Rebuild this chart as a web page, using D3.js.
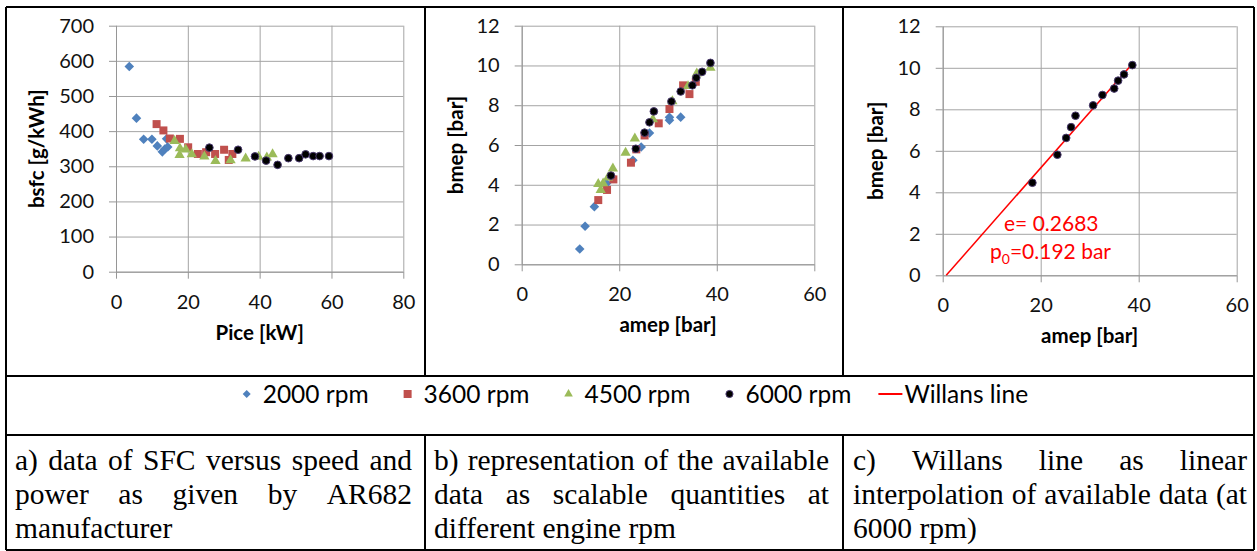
<!DOCTYPE html>
<html>
<head>
<meta charset="utf-8">
<script src="https://cdn.jsdelivr.net/npm/d3@7"></script>
<style>
  body { margin: 0; background: #fff; }
  svg { display: block; }
  .tick text { font-family: Lato, "Open Sans", sans-serif; font-size: 20px; fill: #111; }
  .axis path, .axis line { stroke: #969696; }
  .grid line { stroke: #a4a4a4; }
  .grid path { display: none; }
</style>
</head>
<body>
<script>
// ---- data ----
var seriesNames = ["2000 rpm", "3600 rpm", "4500 rpm", "6000 rpm"];

var pice2000 = [3.7, 5.7, 7.7, 10.0, 11.5, 12.9, 13.6, 14.4, 14.1];
var bsfc2000 = [584, 437, 377, 377, 358, 341, 349, 355, 378];
var pice3600 = [11.3, 13.2, 15.0, 17.8, 20.1, 22.8, 25.1, 27.6, 30.1, 32.4, 31.4];
var bsfc3600 = [420, 402, 379, 378, 354, 335, 340, 335, 347, 335, 318];
var pice4500 = [16.3, 17.8, 17.7, 19.4, 21.1, 24.6, 27.7, 31.9, 36.1, 39.7, 42.0, 43.6];
var bsfc4500 = [372, 351, 332, 348, 334, 328, 315, 317, 322, 327, 325, 334];
var pice6000 = [26.0, 34.0, 38.7, 41.8, 45.0, 48.0, 51.0, 52.8, 54.9, 56.7, 59.3];
var bsfc6000 = [353, 347, 328, 316, 304, 323, 323, 334, 329, 329, 329];

var amep2000 = [11.9, 13.0, 14.9, 17.4, 22.8, 24.5, 26.2, 30.3, 30.3, 32.6];
var bmep2000 = [0.77, 1.91, 2.90, 4.07, 5.23, 5.90, 6.60, 7.39, 7.25, 7.40];
var amep3600 = [15.7, 17.5, 18.8, 22.4, 23.5, 25.2, 28.1, 30.3, 33.1, 34.4, 35.7];
var bmep3600 = [3.23, 3.74, 4.27, 5.11, 5.78, 6.48, 7.09, 7.81, 9.00, 8.56, 9.18];
var amep4500 = [15.7, 16.2, 16.7, 17.7, 18.7, 21.3, 23.2, 26.9, 30.9, 34.1, 35.9, 38.7];
var bmep4500 = [4.04, 3.74, 4.07, 4.37, 4.82, 5.61, 6.33, 7.29, 8.20, 8.96, 9.60, 9.88];
var amep6000 = [18.3, 23.4, 25.2, 26.2, 27.1, 30.7, 32.6, 35.0, 35.8, 37.0, 38.7];
var bmep6000 = [4.46, 5.81, 6.62, 7.14, 7.69, 8.19, 8.69, 9.00, 9.38, 9.68, 10.13];

// Willans line fit at 6000 rpm: bmep = e * amep - p0
var willansE = 0.2683;
var willansP0 = 0.192;
var willansAmep = [0.72, 38.9];

var ticksPice = [0, 20, 40, 60, 80];
var ticksBsfc = [0, 100, 200, 300, 400, 500, 600, 700];
var ticksAmep = [0, 20, 40, 60];
var ticksBmep = [0, 2, 4, 6, 8, 10, 12];

var captions = [
  ["a) data of SFC versus speed and", "power as given by AR682", "manufacturer"],
  ["b) representation of the available", "data as scalable quantities at", "different engine rpm"],
  ["c) Willans line as linear", "interpolation of available data (at", "6000 rpm)"]
];

// ---- styles ----
var colors = ["#4f81bd", "#c0504d", "#9bbb59", "#000000"];
var shapes = [d3.symbolSquare, d3.symbolSquare, d3.symbolTriangle, d3.symbolCircle];
var sizes = [46, 64, 46, 46];
var rot = [45, 0, 0, 0];
var sans = "Lato, 'Open Sans', sans-serif";

var W = 1257, H = 551;
var svg = d3.select("body").append("svg").attr("width", W).attr("height", H);

function zip(xs, ys) {
  return xs.map(function (v, i) { return [v, ys[i]]; });
}

function panel(opt) {
  var x = d3.scaleLinear().domain(opt.xd).range(opt.xr);
  var y = d3.scaleLinear().domain(opt.yd).range(opt.yr);
  var g = svg.append("g");
  var pw = opt.xr[1] - opt.xr[0], ph = opt.yr[0] - opt.yr[1];

  g.append("g").attr("class", "grid")
    .attr("transform", "translate(" + opt.xr[0] + ",0)")
    .call(d3.axisLeft(y).tickValues(opt.yt).tickSize(-pw).tickFormat(""));
  g.append("g").attr("class", "grid")
    .attr("transform", "translate(0," + opt.yr[0] + ")")
    .call(d3.axisBottom(x).tickValues(opt.xt).tickSize(-ph).tickFormat(""));

  g.append("g").attr("class", "axis")
    .attr("transform", "translate(" + opt.xr[0] + ",0)")
    .call(d3.axisLeft(y).tickValues(opt.yt).tickSize(7).tickSizeOuter(0).tickPadding(15));
  g.append("g").attr("class", "axis")
    .attr("transform", "translate(0," + opt.yr[0] + ")")
    .call(d3.axisBottom(x).tickValues(opt.xt).tickSize(7).tickSizeOuter(0).tickPadding(16));

  g.append("text")
    .attr("x", (opt.xr[0] + opt.xr[1]) / 2).attr("y", opt.yr[0] + 68)
    .attr("text-anchor", "middle")
    .style("font-family", sans).style("font-size", "20.5px").style("font-weight", "bold")
    .text(opt.xl);
  g.append("text")
    .attr("transform", "translate(" + (opt.xr[0] - opt.yo) + "," + ((opt.yr[0] + opt.yr[1]) / 2) + ") rotate(-90)")
    .attr("text-anchor", "middle")
    .style("font-family", sans).style("font-size", "20.5px").style("font-weight", "bold")
    .text(opt.yl);

  if (opt.line) {
    g.append("path")
      .datum(opt.line)
      .attr("fill", "none").attr("stroke", "#ff0000").attr("stroke-width", 1.5)
      .attr("d", d3.line().x(function (d) { return x(d[0]); }).y(function (d) { return y(d[1]); }));
  }

  opt.series.forEach(function (s) {
    g.append("g").selectAll("path")
      .data(s.pts)
      .join("path")
      .attr("d", d3.symbol(shapes[s.k], sizes[s.k]))
      .attr("transform", function (d) {
        return "translate(" + x(d[0]) + "," + y(d[1]) + ") rotate(" + rot[s.k] + ")";
      })
      .attr("fill", colors[s.k])
      .attr("stroke", s.k == 3 ? "#4a3a6e" : "none")
      .attr("stroke-width", 1);
  });
  return { x: x, y: y, g: g };
}

// a) bsfc vs Pice
panel({
  xd: [0, 80], yd: [0, 700], xr: [116, 403.3], yr: [271.7, 25.7],
  xt: ticksPice, yt: ticksBsfc, xl: "Pice [kW]", yl: "bsfc [g/kWh]", yo: 72,
  series: [
    { k: 0, pts: zip(pice2000, bsfc2000) },
    { k: 1, pts: zip(pice3600, bsfc3600) },
    { k: 2, pts: zip(pice4500, bsfc4500) },
    { k: 3, pts: zip(pice6000, bsfc6000) }
  ]
});

// b) bmep vs amep, all speeds
panel({
  xd: [0, 60], yd: [0, 12], xr: [521.7, 814.3], yr: [264.3, 25.7],
  xt: ticksAmep, yt: ticksBmep, xl: "amep [bar]", yl: "bmep [bar]", yo: 59,
  series: [
    { k: 0, pts: zip(amep2000, bmep2000) },
    { k: 1, pts: zip(amep3600, bmep3600) },
    { k: 2, pts: zip(amep4500, bmep4500) },
    { k: 3, pts: zip(amep6000, bmep6000) }
  ]
});

// c) Willans line at 6000 rpm
var pc = panel({
  xd: [0, 60], yd: [0, 12], xr: [942.7, 1236.7], yr: [275.3, 26.3],
  xt: ticksAmep, yt: ticksBmep, xl: "amep [bar]", yl: "bmep [bar]", yo: 60,
  line: willansAmep.map(function (a) { return [a, willansE * a - willansP0]; }),
  series: [{ k: 3, pts: zip(amep6000, bmep6000) }]
});
pc.g.append("text")
  .attr("x", 1004).attr("y", 231)
  .style("font-family", sans).style("font-size", "21px").attr("fill", "#ff0000")
  .text("e= " + willansE);
var p0t = pc.g.append("text")
  .attr("x", 990).attr("y", 259)
  .style("font-family", sans).style("font-size", "21px").attr("fill", "#ff0000");
p0t.append("tspan").text("p");
p0t.append("tspan").attr("dy", 5).style("font-size", "14px").text("0");
p0t.append("tspan").attr("dy", -5).text("=" + willansP0 + " bar");

// ---- legend ----
var leg = svg.append("g");
var lx = 246.7, ly = 394;
seriesNames.forEach(function (n, k) {
  leg.append("path")
    .attr("d", d3.symbol(shapes[k], [32, 64, 32, 40][k]))
    .attr("transform", "translate(" + lx + "," + ly + ") rotate(" + rot[k] + ")")
    .attr("fill", colors[k])
    .attr("stroke", k == 3 ? "#4a3a6e" : "none");
  var t = leg.append("text")
    .attr("x", lx + 16).attr("y", ly + 8.5)
    .style("font-family", sans).style("font-size", "24.5px")
    .text(n);
  lx = lx + 16 + t.node().getComputedTextLength() + 39;
});
leg.append("line")
  .attr("x1", lx - 12).attr("x2", lx + 12).attr("y1", ly).attr("y2", ly)
  .attr("stroke", "#ff0000").attr("stroke-width", 2);
leg.append("text")
  .attr("x", lx + 14).attr("y", ly + 8.5)
  .style("font-family", sans).style("font-size", "24.5px")
  .text("Willans line");

// ---- caption cells, justified ----
var cellX = [[15, 412], [434, 829], [853, 1247]];
var lineY = [470, 504, 538];
var cap = svg.append("g")
  .style("font-family", "'Liberation Serif', 'Times New Roman', serif")
  .style("font-size", "29.5px");
captions.forEach(function (lines, c) {
  lines.forEach(function (ln, i) {
    var words = ln.split(" ");
    var nodes = words.map(function (w) {
      return cap.append("text").attr("y", lineY[i]).text(w);
    });
    var widths = nodes.map(function (nd) { return nd.node().getComputedTextLength(); });
    var total = d3.sum(widths);
    var gap = (i < lines.length - 1 && words.length > 1)
      ? (cellX[c][1] - cellX[c][0] - total) / (words.length - 1)
      : 7.4;
    var cx = cellX[c][0];
    nodes.forEach(function (nd, j) {
      nd.attr("x", cx);
      cx += widths[j] + gap;
    });
  });
});

// ---- table borders ----
var border = svg.append("g").attr("stroke", "#000").attr("stroke-width", 2);
[[6, 7, 1254, 7], [6, 376, 1254, 376], [6, 435, 1254, 435], [6, 550, 1254, 550],
 [6, 7, 6, 550], [1254, 7, 1254, 550],
 [425, 7, 425, 376], [843, 7, 843, 376], [425, 435, 425, 550], [843, 435, 843, 550]]
  .forEach(function (l) {
    border.append("line").attr("x1", l[0]).attr("y1", l[1]).attr("x2", l[2]).attr("y2", l[3]);
  });
</script>
</body>
</html>
